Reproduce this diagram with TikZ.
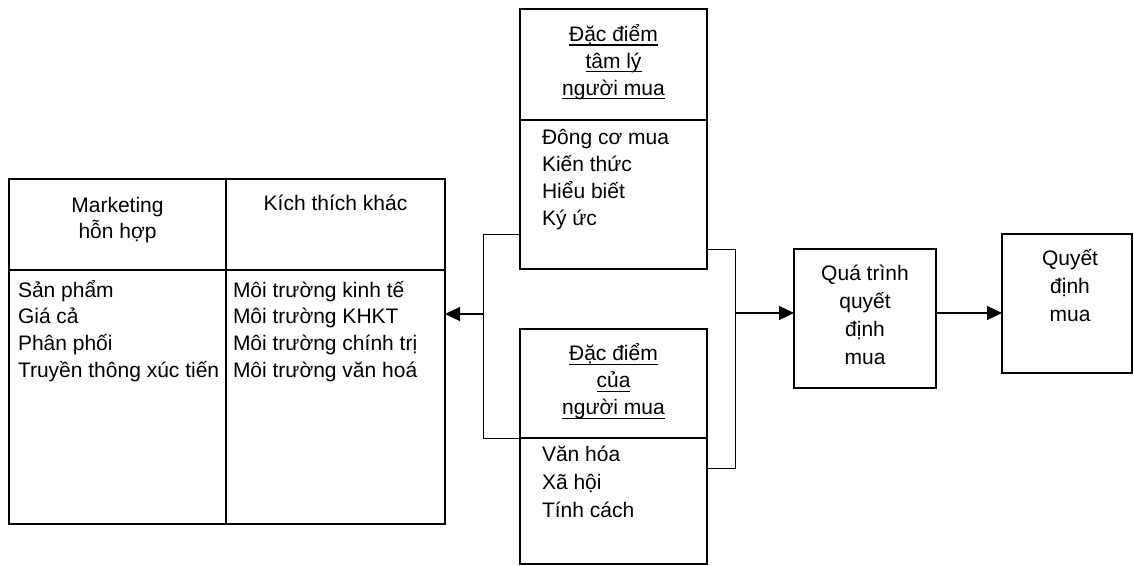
\documentclass[tikz,border=0pt]{standalone}
\usepackage{fontspec}
\setmainfont{Liberation Sans}
\usetikzlibrary{arrows.meta}
\begin{document}
\begin{tikzpicture}[x=1pt,y=-1pt,
  boxframe/.style={draw, line width=2pt, inner sep=0pt, outer sep=0pt, anchor=north west},
  txt/.style={inner sep=0pt, outer sep=0pt, font=\fontsize{21}{26}\selectfont},
  lft/.style={txt, anchor=base west},
  ctr/.style={txt, anchor=base},
  ulpath/.style={line width=1.2pt},
  conn/.style={line width=1pt},
  arr/.style={line width=1.3pt, -{Triangle[length=15pt,width=14pt]}}]
\useasboundingbox (0,0) rectangle (1134,565);

% left compound box
\node[boxframe, minimum width=217pt, minimum height=91pt] (mkh) at (9,179) {};
\node[boxframe, minimum width=217pt, minimum height=254pt] (mkb) at (9,270) {};
\node[boxframe, minimum width=219pt, minimum height=91pt] (kth) at (226,179) {};
\node[boxframe, minimum width=219pt, minimum height=254pt] (ktb) at (226,270) {};

\node[ctr] (mk1) at (117.5,212) {Marketing};
\node[ctr] (mk2) at (117.5,238.7) {hỗn hợp};
\node[ctr] (kt1) at (335.5,210.5) {Kích thích khác};

\node[lft] (a1) at (18,297) {Sản phẩm};
\node[lft] (a2) at (18,323.7) {Giá cả};
\node[lft] (a3) at (18,350.4) {Phân phối};
\node[lft] (a4) at (18,377.1) {Truyền thông xúc tiến};

\node[lft] (b1) at (233,297) {Môi trường kinh tế};
\node[lft] (b2) at (233,323.7) {Môi trường KHKT};
\node[lft] (b3) at (233,350.4) {Môi trường chính trị};
\node[lft] (b4) at (233,377.1) {Môi trường văn hoá};

% top box
\node[boxframe, minimum width=187pt, minimum height=111pt] (th) at (520,9) {};
\node[boxframe, minimum width=187pt, minimum height=149pt] (tb) at (520,120) {};
\node[ctr] (t1) at (613.5,41.5) {Đặc điểm};
\node[ctr] (t2) at (613.5,68.3) {tâm lý};
\node[ctr] (t3) at (613.5,95) {người mua};
\node[lft] (c1) at (542,144) {Đông cơ mua};
\node[lft] (c2) at (542,171.2) {Kiến thức};
\node[lft] (c3) at (542,198.4) {Hiểu biết};
\node[lft] (c4) at (542,225.6) {Ký ức};

% bottom box
\node[boxframe, minimum width=187pt, minimum height=109pt] (bh) at (520,329) {};
\node[boxframe, minimum width=187pt, minimum height=126pt] (bb) at (520,438) {};
\node[ctr] (u1) at (613.5,360.7) {Đặc điểm};
\node[ctr] (u2) at (613.5,387.8) {của};
\node[ctr] (u3) at (613.5,414.9) {người mua};
\node[lft] (d1) at (542,461.7) {Văn hóa};
\node[lft] (d2) at (542,489.5) {Xã hội};
\node[lft] (d3) at (542,517.3) {Tính cách};

% underlines of the headings
\foreach \n in {t1,t2,t3,u1,u2,u3}
  \draw[ulpath] ([yshift=-3.5pt]\n.base west) -- ([yshift=-3.5pt]\n.base east);

% process box
\node[boxframe, minimum width=142pt, minimum height=139pt] (proc) at (794,249) {};
\node[ctr] (p1) at (865,280) {Quá trình};
\node[ctr] (p2) at (865,308) {quyết};
\node[ctr] (p3) at (865,336) {định};
\node[ctr] (p4) at (865,364) {mua};

% decision box
\node[boxframe, minimum width=130pt, minimum height=139pt] (dec) at (1002,234) {};
\node[ctr] (q1) at (1070,265) {Quyết};
\node[ctr] (q2) at (1070,293) {định};
\node[ctr] (q3) at (1070,321.5) {mua};

% connectors left
\coordinate (L1) at (483,234);
\coordinate (L2) at (483,438);
\coordinate (LJ) at (483,314);
\draw[conn] (tb.west |- L1) -- (L1) -- (L2) -- (bh.south west);
\draw[arr] (LJ) -- (ktb.east |- LJ);

% connectors right
\coordinate (R1) at (735,249);
\coordinate (R2) at (735,468);
\coordinate (RJ) at (735,313);
\draw[conn] (tb.east |- R1) -- (R1) -- (R2) -- (bb.east |- R2);
\draw[arr] (RJ) -- (proc.west |- RJ);
\draw[arr] (proc.east |- RJ) -- (dec.west |- RJ);
\end{tikzpicture}
\end{document}
